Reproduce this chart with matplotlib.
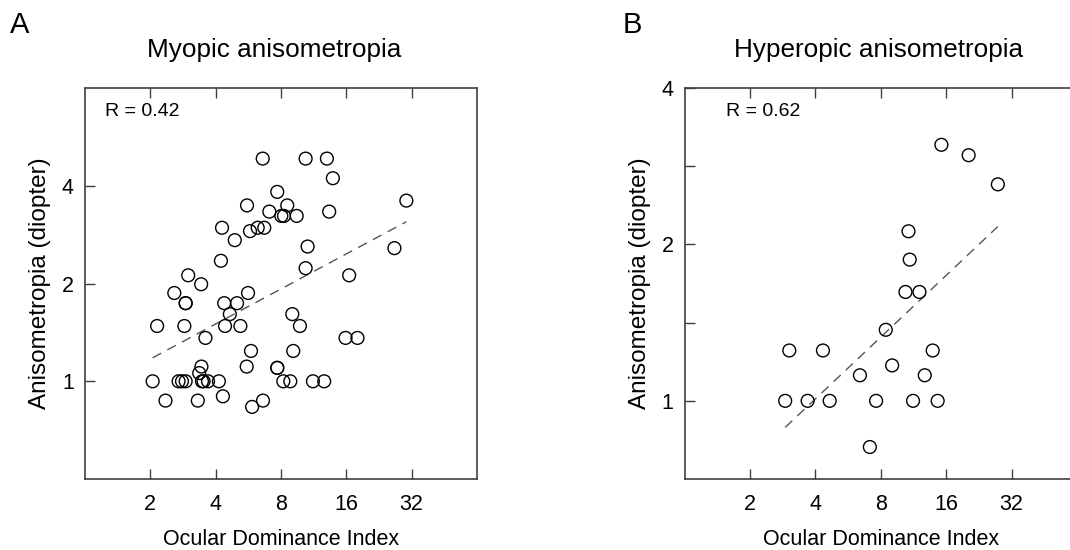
import numpy as np
from matplotlib import pyplot as plt
from matplotlib.ticker import FixedLocator, NullFormatter

plt.rcParams['font.family'] = ['Liberation Sans', 'DejaVu Sans']

# Myopic anisometropia: ocular dominance index vs anisometropia (diopter)
myo_odi = [6.59, 10.39, 13.02, 13.87, 7.69, 30.25, 5.58, 7.07, 8.55, 13.34,
           8.03, 8.26, 9.45, 4.28, 5.76, 6.25, 6.70, 4.90, 10.61, 26.65,
           4.23, 10.39, 2.99, 16.49, 3.43, 2.58, 2.91, 2.91, 4.38, 5.02,
           5.64, 4.65, 9.02, 2.15, 2.87, 4.42, 5.20, 9.78, 3.59, 15.87,
           18.01, 5.82, 9.11, 3.44, 5.56, 7.69, 7.69, 3.36,
           2.05, 2.70, 2.80, 2.91, 3.46, 3.52, 3.69, 4.14, 8.20, 8.83,
           11.23, 12.65,
           2.35, 3.31, 4.32, 5.89, 6.61]
myo_aniso = [4.85, 4.85, 4.85, 4.22, 3.83, 3.60, 3.48, 3.33, 3.48, 3.33,
             3.23, 3.23, 3.23, 2.97, 2.90, 2.97, 2.97, 2.72, 2.60, 2.57,
             2.35, 2.23, 2.12, 2.12, 1.99, 1.87, 1.74, 1.74, 1.74, 1.74,
             1.87, 1.61, 1.61, 1.48, 1.48, 1.48, 1.48, 1.48, 1.36, 1.36,
             1.36, 1.24, 1.24, 1.11, 1.11, 1.10, 1.10, 1.06,
             1.0, 1.0, 1.0, 1.0, 1.0, 1.0, 1.0, 1.0, 1.0, 1.0,
             1.0, 1.0,
             0.872, 0.872, 0.899, 0.834, 0.872]

# Hyperopic anisometropia
hyp_odi = [15.21, 20.31, 27.68, 10.73, 10.87, 10.39, 12.05, 8.43, 3.03, 4.33,
           13.87, 9.02, 6.41, 12.75, 2.90, 3.68, 4.65, 7.61, 11.26, 14.62, 7.12]
hyp_aniso = [3.11, 2.97, 2.61, 2.12, 1.87, 1.62, 1.62, 1.37, 1.25, 1.25,
             1.25, 1.17, 1.12, 1.12, 1.0, 1.0, 1.0, 1.0, 1.0, 1.0, 0.815]

x_ticks = [2, 4, 8, 16, 32]
x_ticklabels = ['2', '4', '8', '16', '32']
y_ticks = [1, 2, 4]
y_ticklabels = ['1', '2', '4']

fig = plt.figure(figsize=(10.7, 5.5), dpi=100)
axA = fig.add_axes([0.0794, 0.129, 0.3664, 0.711])
axB = fig.add_axes([0.640, 0.129, 0.3664, 0.711])


def draw_panel(ax, xs, ys, title, title_x, rtext, rx, ylim, minor_y):
    xs = np.array(xs)
    ys = np.array(ys)
    ax.scatter(xs, ys, s=85, facecolors='none', edgecolors='black',
               linewidths=1.0, zorder=3)
    # regression line in log-log space
    k, b = np.polyfit(np.log2(xs), np.log2(ys), 1)
    lx = np.array([xs.min(), xs.max()])
    ly = 2 ** (k * np.log2(lx) + b)
    ax.plot(lx, ly, ls=(0, (7, 5)), color='#555555', lw=1.0)

    ax.set_xscale('log', base=2)
    ax.set_yscale('log', base=2)
    ax.set_xlim(1, 64)
    ax.set_ylim(*ylim)
    ax.xaxis.set_major_locator(FixedLocator(x_ticks))
    ax.set_xticklabels(x_ticklabels)
    ax.xaxis.set_minor_locator(FixedLocator([]))
    ax.yaxis.set_major_locator(FixedLocator(y_ticks))
    ax.set_yticklabels(y_ticklabels)
    ax.yaxis.set_minor_locator(FixedLocator(minor_y))
    ax.yaxis.set_minor_formatter(NullFormatter())
    ax.tick_params(axis='x', which='both', direction='in', top=True,
                   length=7, width=1, labelsize=15.5, pad=11, color='#404040')
    ax.tick_params(axis='y', which='both', direction='in', right=False,
                   length=7, width=1, labelsize=15.5, pad=8, color='#404040')
    for sp in ax.spines.values():
        sp.set_color('#404040')
        sp.set_linewidth(1.2)
    ax.set_xlabel('Ocular Dominance Index', fontsize=15.5, labelpad=10)
    ax.set_ylabel('Anisometropia (diopter)', fontsize=17.5, labelpad=8)
    ax.set_title(title, fontsize=18.8, pad=22, x=title_x)
    ax.text(rx, 0.94, rtext, transform=ax.transAxes, fontsize=14,
            va='center', ha='left')


draw_panel(axA, myo_odi, myo_aniso, 'Myopic anisometropia', 0.483,
           'R = 0.42', 0.05, (0.5, 8), [])
draw_panel(axB, hyp_odi, hyp_aniso, 'Hyperopic anisometropia', 0.495,
           'R = 0.62', 0.105, (2 ** -0.5, 4), [2 ** 0.5, 2 ** 1.5])

fig.text(0.009, 0.955, 'A', fontsize=21, va='center', ha='left')
fig.text(0.582, 0.955, 'B', fontsize=21, va='center', ha='left')

fig.savefig('out.png', dpi=100)
